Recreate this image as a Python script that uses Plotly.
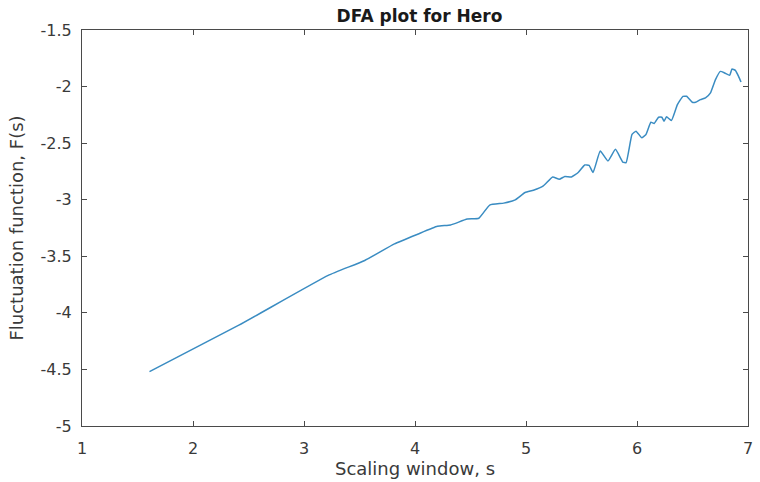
import plotly.graph_objects as go

# Scaling window (log s) and fluctuation function (log F(s))
scale_s = [1.608, 2.413, 3.218, 3.547, 3.815, 4.023, 4.202, 4.321, 4.470, 4.575,
           4.673, 4.799, 4.903, 4.992, 5.067, 5.156, 5.240, 5.300, 5.350, 5.410,
           5.470, 5.529, 5.568, 5.604, 5.669, 5.738, 5.806, 5.872, 5.902, 5.955,
           5.991, 6.042, 6.081, 6.125, 6.155, 6.194, 6.224, 6.244, 6.266, 6.310,
           6.364, 6.414, 6.447, 6.498, 6.528, 6.572, 6.617, 6.662, 6.707, 6.751,
           6.790, 6.835, 6.856, 6.886, 6.915, 6.937]
fluct_F = [-4.519, -4.109, -3.669, -3.537, -3.390, -3.305, -3.235, -3.223, -3.171, -3.164,
           -3.047, -3.030, -3.001, -2.936, -2.916, -2.878, -2.799, -2.819, -2.795, -2.799,
           -2.760, -2.693, -2.696, -2.760, -2.570, -2.658, -2.555, -2.667, -2.672, -2.423,
           -2.394, -2.452, -2.423, -2.315, -2.326, -2.271, -2.271, -2.306, -2.267, -2.300,
           -2.159, -2.086, -2.086, -2.139, -2.139, -2.115, -2.100, -2.056, -1.939, -1.866,
           -1.880, -1.901, -1.845, -1.857, -1.910, -1.960]

x_ticks = [1, 2, 3, 4, 5, 6, 7]
y_ticks = [-5, -4.5, -4, -3.5, -3, -2.5, -2, -1.5]

FONT = "DejaVu Sans, Liberation Sans, sans-serif"
AX = "#4a4a4a"
TXT = "#3a3a3a"

fig = go.Figure(go.Scatter(x=scale_s, y=fluct_F, mode="lines",
                           line=dict(color="#3a8cc2", width=1.5, shape="spline", smoothing=0.4),
                           hoverinfo="skip"))

fig.update_layout(
    width=760, height=482,
    margin=dict(l=82, r=7, t=30, b=54),
    paper_bgcolor="white", plot_bgcolor="white",
    showlegend=False,
    title=dict(text="<b>DFA plot for Hero</b>", x=419.5 / 760, xanchor="center",
               y=1 - 16 / 482, yanchor="middle",
               font=dict(family=FONT, size=17, color="#1a1a1a")),
    font=dict(family=FONT, color=TXT),
)
fig.update_xaxes(range=[1, 7], tickvals=x_ticks, ticktext=[str(v) for v in x_ticks],
                 showgrid=False, zeroline=False, showline=True, linecolor=AX, linewidth=1,
                 mirror="ticks", ticks="inside", ticklen=5, tickcolor=AX,
                 ticklabelstandoff=8,
                 tickfont=dict(size=16, color=TXT),
                 title=dict(text="Scaling window, s", font=dict(size=18, color=TXT), standoff=4))
fig.update_yaxes(range=[-5, -1.5], tickvals=y_ticks, ticktext=[f"{v:g}" for v in y_ticks],
                 showgrid=False, zeroline=False, showline=True, linecolor=AX, linewidth=1,
                 mirror="ticks", ticks="inside", ticklen=5, tickcolor=AX,
                 ticklabelstandoff=6,
                 tickfont=dict(size=16, color=TXT),
                 title=dict(text="Fluctuation function, F(s)", font=dict(size=18, color=TXT), standoff=12))

fig.write_html("out.html")
